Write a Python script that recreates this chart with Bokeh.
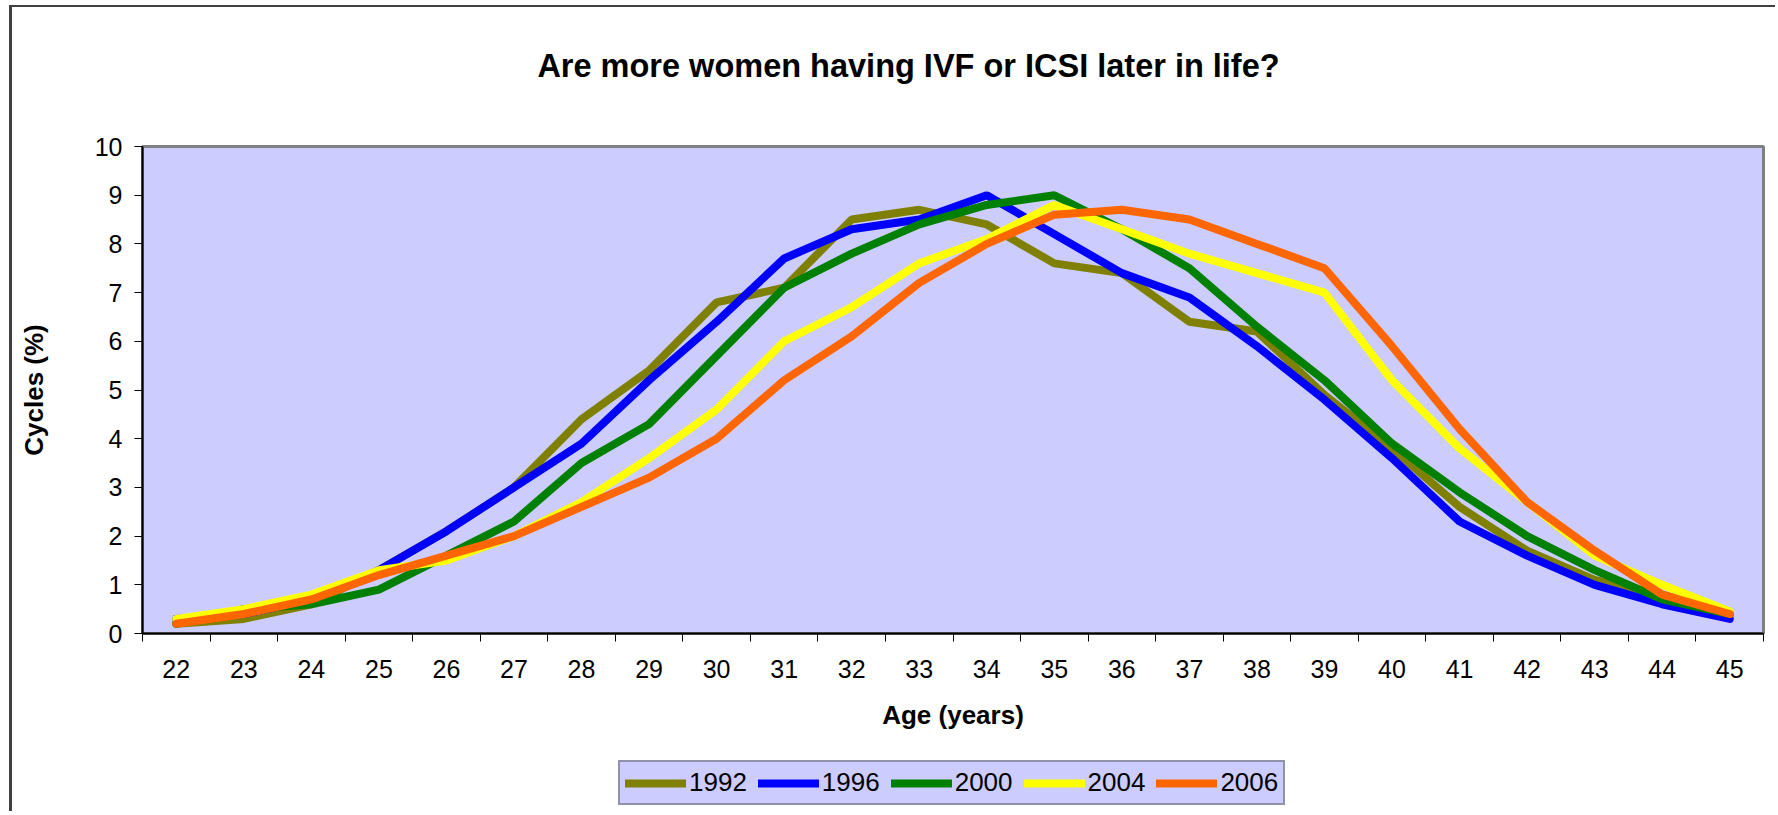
from bokeh.plotting import figure
from bokeh.layouts import column
from bokeh.models import (FixedTicker, Range1d, Legend, LegendItem, ColumnDataSource, Label)
from bokeh.embed import file_html
from bokeh.resources import INLINE

# ---- data ----
ages = list(range(22, 46))
series_names = ["1992", "1996", "2000", "2004", "2006"]
v1992 = [0.2, 0.3, 0.6, 1.3, 2.1, 3.0, 4.4, 5.4, 6.8, 7.1, 8.5, 8.7, 8.4, 7.6, 7.4, 6.4, 6.2, 4.9, 3.8, 2.6, 1.7, 1.1, 0.8, 0.4]
v1996 = [0.3, 0.4, 0.7, 1.3, 2.1, 3.0, 3.9, 5.2, 6.4, 7.7, 8.3, 8.5, 9.0, 8.2, 7.4, 6.9, 5.9, 4.8, 3.6, 2.3, 1.6, 1.0, 0.6, 0.3]
v2000 = [0.2, 0.5, 0.6, 0.9, 1.6, 2.3, 3.5, 4.3, 5.7, 7.1, 7.8, 8.4, 8.8, 9.0, 8.3, 7.5, 6.3, 5.2, 3.9, 2.9, 2.0, 1.3, 0.7, 0.4]
v2004 = [0.3, 0.5, 0.8, 1.3, 1.5, 2.0, 2.7, 3.6, 4.6, 6.0, 6.7, 7.6, 8.1, 8.8, 8.3, 7.8, 7.4, 7.0, 5.2, 3.8, 2.7, 1.6, 1.0, 0.45]
v2006 = [0.2, 0.4, 0.7, 1.2, 1.6, 2.0, 2.6, 3.2, 4.0, 5.2, 6.1, 7.2, 8.0, 8.6, 8.7, 8.5, 8.0, 7.5, 5.9, 4.2, 2.7, 1.7, 0.8, 0.4]
y_ticks = list(range(0, 11))
title_text = "Are more women having IVF or ICSI later in life?"
x_label = "Age (years)"
y_label = "Cycles (%)"

colors = ["#808000", "#0000FF", "#008000", "#FFFF00", "#FF6600"]
FONT = "Liberation Sans"
W = 1763
FW = 1621  # frame width (frames of the stacked figures are aligned)

# ---- title strip ----
title_fig = figure(width=W, height=119, x_range=Range1d(0, FW), y_range=Range1d(0, 119),
                   output_backend="svg", toolbar_location=None,
                   x_axis_location=None, y_axis_location=None, min_border=0,
                   outline_line_color=None, background_fill_color="white",
                   border_fill_color="white")
title_fig.xgrid.visible = False
title_fig.ygrid.visible = False
title_fig.add_layout(Label(x=766, y=61, text=title_text, text_font=FONT,
                           text_font_size="32.5px", text_font_style="bold",
                           text_align="center", text_baseline="middle",
                           text_color="black"))

# ---- main chart ----
fig = figure(frame_width=FW, frame_height=487,
             x_range=Range1d(21.5, 45.5), y_range=Range1d(0, 10),
             output_backend="svg", toolbar_location=None,
             min_border_left=130, min_border_right=12,
             min_border_top=20, min_border_bottom=112,
             background_fill_color="#CCCCFF", border_fill_color="white",
             outline_line_color="#808080", outline_line_width=3)
fig.xgrid.visible = False
fig.ygrid.visible = False

xa = fig.xaxis[0]
xa.ticker = FixedTicker(ticks=ages, minor_ticks=[a - 0.5 for a in ages] + [ages[-1] + 0.5])
xa.major_tick_out = 0
xa.major_tick_in = 0
xa.minor_tick_out = 8
xa.minor_tick_in = 0
xa.minor_tick_line_color = "black"
xa.minor_tick_line_width = 1
xa.axis_line_color = "black"
xa.axis_line_width = 2
xa.major_label_text_font = FONT
xa.major_label_text_font_size = "25px"
xa.major_label_text_color = "black"
xa.major_label_standoff = 18
xa.axis_label = x_label
xa.axis_label_text_font = FONT
xa.axis_label_text_font_size = "26px"
xa.axis_label_text_font_style = "bold"
xa.axis_label_text_color = "black"
xa.axis_label_standoff = 19

ya = fig.yaxis[0]
ya.ticker = FixedTicker(ticks=y_ticks, minor_ticks=[])
ya.major_tick_out = 8
ya.major_tick_in = 0
ya.major_tick_line_color = "black"
ya.major_tick_line_width = 1
ya.axis_line_color = "black"
ya.axis_line_width = 2
ya.major_label_text_font = FONT
ya.major_label_text_font_size = "25px"
ya.major_label_text_color = "black"
ya.major_label_standoff = 12
ya.axis_label = y_label
ya.axis_label_text_font = FONT
ya.axis_label_text_font_size = "26px"
ya.axis_label_text_font_style = "bold"
ya.axis_label_text_color = "black"
ya.axis_label_standoff = 43

sources = []
for name, vals, col in zip(series_names, [v1992, v1996, v2000, v2004, v2006], colors):
    src = ColumnDataSource(dict(x=ages, y=vals))
    sources.append(src)
    fig.line("x", "y", source=src, line_color=col, line_width=8, line_cap="round")

# ---- legend strip (its lines sit outside its visible range; only the key shows) ----
leg_fig = figure(width=W, height=66, x_range=Range1d(0, FW), y_range=Range1d(100, 166),
                 output_backend="svg", toolbar_location=None,
                 x_axis_location=None, y_axis_location=None, min_border=0,
                 outline_line_color=None, background_fill_color="white",
                 border_fill_color="white")
leg_fig.xgrid.visible = False
leg_fig.ygrid.visible = False
items = []
for name, src, col in zip(series_names, sources, colors):
    r = leg_fig.line("x", "y", source=src, line_color=col, line_width=8, line_cap="round")
    items.append(LegendItem(label=name, renderers=[r]))
legend = Legend(items=items, orientation="horizontal", location=(476, 6),
                glyph_width=61, glyph_height=28, label_standoff=3, spacing=11,
                padding=5, margin=0,
                label_text_font=FONT, label_text_font_size="26px", label_text_color="black",
                background_fill_color="#CCCCFF", background_fill_alpha=1.0,
                border_line_color="#555555", border_line_width=2)
leg_fig.add_layout(legend)

p = column(title_fig, fig, leg_fig, spacing=0,
           styles={"border-left": "3px solid #404040", "border-top": "2px solid #404040",
                   "margin-left": "9px", "margin-top": "5px"})

open("out.html", "w").write(file_html(p, INLINE))
